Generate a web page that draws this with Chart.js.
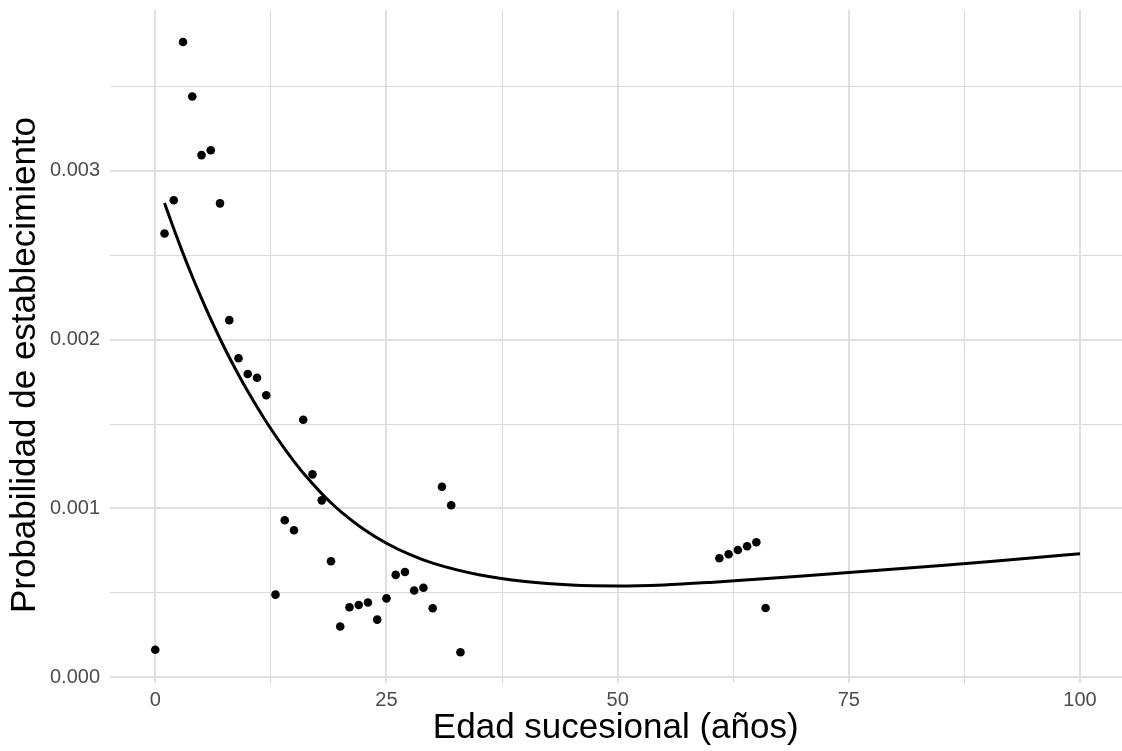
<!DOCTYPE html>
<html><head><meta charset="utf-8">
<script src="https://cdn.jsdelivr.net/npm/chart.js@4.4.1/dist/chart.umd.min.js"></script>
<style>html,body{margin:0;padding:0;background:#fff;} canvas{display:block;}</style>
</head><body>
<canvas id="c" width="1122" height="751"></canvas>
<script>
// ---- data ----
const pointAges  = [0, 1, 2, 3, 4, 5, 6, 7, 8, 9, 10, 11, 12, 13, 14, 15, 16, 17, 18, 19, 20, 21, 22, 23, 24, 25, 26, 27, 28, 29, 30, 31, 32, 33, 61, 62, 63, 64, 65, 66];
const pointProbs = [0.000164, 0.002628, 0.002825, 0.003762, 0.003439, 0.003092, 0.003121, 0.002806, 0.002115, 0.001889,
                    0.001796, 0.001774, 0.001670, 0.000490, 0.000930, 0.000871, 0.001525, 0.001202, 0.001048, 0.000688,
                    0.000301, 0.000415, 0.000429, 0.000443, 0.000342, 0.000468, 0.000607, 0.000624, 0.000514, 0.000531,
                    0.000409, 0.001129, 0.001019, 0.000149, 0.000705, 0.000729, 0.000754, 0.000776, 0.000800, 0.000411];
const curveAges  = [1, 2, 3, 4, 5, 6, 7, 8, 9, 10, 12, 14, 15, 16, 18, 19, 20, 22.5, 25, 27.5, 30, 35, 40, 45, 50, 55, 60, 65, 70, 75, 80, 85, 90, 95, 100];
const curveProbs = [0.0028088, 0.0026553, 0.0025102, 0.0023730, 0.0022434, 0.0021208, 0.0020049, 0.0018953, 0.0017918, 0.0016938,
                    0.0015137, 0.0013528, 0.0012789, 0.0012099, 0.0010881, 0.0010341, 0.0009847, 0.0008788, 0.0007944, 0.0007280,
                    0.0006762, 0.0006075, 0.0005675, 0.0005467, 0.0005412, 0.0005475, 0.0005624, 0.0005811, 0.0006006, 0.0006207,
                    0.0006416, 0.0006631, 0.0006853, 0.0007083, 0.0007321];
const xTickValues  = [0, 25, 50, 75, 100];
const xTickLabels  = ['0', '25', '50', '75', '100'];
const xMinorValues = [12.5, 37.5, 62.5, 87.5];
const yTickValues  = [0, 0.001, 0.002, 0.003];
const yTickLabels  = ['0.000', '0.001', '0.002', '0.003'];
const yMinorValues = [0.0005, 0.0015, 0.0025, 0.0035];
const xTitle = 'Edad sucesional (años)';
const yTitle = 'Probabilidad de establecimiento';

// ---- build ----
const FONT = '"Liberation Sans", Arial, Helvetica, sans-serif';
const pts = pointAges.map((a, i) => ({x: a, y: pointProbs[i]}));
const crv = curveAges.map((a, i) => ({x: a, y: curveProbs[i]}));

function gridOpts(majors) {
  const isMajor = v => majors.indexOf(v) >= 0;
  return {
    drawTicks: false,
    color: c => (c.tick && isMajor(c.tick.value)) ? '#e0e0e0' : '#dadada',
    lineWidth: c => (c.tick && isMajor(c.tick.value)) ? 2 : 1
  };
}
function zeroPad(s) { s.paddingTop = 0; s.paddingBottom = 0; s.paddingLeft = 0; s.paddingRight = 0; }

const yTitlePlugin = {
  id: 'yTitleText',
  afterDraw(chart) {
    const ctx = chart.ctx;
    ctx.save();
    ctx.translate(25.5, 365);
    ctx.rotate(-Math.PI / 2);
    ctx.font = '35px ' + FONT;
    ctx.fillStyle = '#000';
    ctx.textAlign = 'center';
    ctx.textBaseline = 'middle';
    ctx.fillText(yTitle, 0, 0);
    ctx.restore();
  }
};

new Chart(document.getElementById('c'), {
  type: 'scatter',
  data: {
    datasets: [
      {
        type: 'line', data: crv, showLine: true, borderColor: '#000', borderWidth: 3,
        pointRadius: 0, fill: false, cubicInterpolationMode: 'monotone'
      },
      {
        type: 'scatter', data: pts, backgroundColor: '#000', borderWidth: 0,
        pointRadius: 4.3, pointHoverRadius: 4.3
      }
    ]
  },
  options: {
    responsive: false,
    animation: false,
    events: [],
    layout: {autoPadding: false, padding: {top: 10, left: 0, right: 0, bottom: 0}},
    plugins: {legend: {display: false}, tooltip: {enabled: false}},
    scales: {
      x: {
        type: 'linear', min: -4.95, max: 104.54,
        afterFit: s => { s.height = 68.5; zeroPad(s); },
        afterBuildTicks: s => {
          s.ticks = xTickValues.concat(xMinorValues).sort((a, b) => a - b).map(v => ({value: v}));
        },
        border: {display: false},
        grid: gridOpts(xTickValues),
        ticks: {
          autoSkip: false, maxRotation: 0, padding: 6,
          color: '#4d4d4d', font: {family: FONT, size: 20},
          callback: v => { const i = xTickValues.indexOf(v); return i >= 0 ? xTickLabels[i] : ''; }
        },
        title: {
          display: true, text: xTitle, color: '#000',
          font: {family: FONT, size: 35, lineHeight: 1.2},
          padding: {top: 0, bottom: 1.5}
        }
      },
      y: {
        type: 'linear', min: -0.0000302, max: 0.003951,
        afterFit: s => { s.width = 109.5; zeroPad(s); },
        afterBuildTicks: s => {
          s.ticks = yTickValues.concat(yMinorValues).sort((a, b) => a - b).map(v => ({value: v}));
        },
        border: {display: false},
        grid: gridOpts(yTickValues),
        ticks: {
          autoSkip: false, padding: 9.5,
          color: '#4d4d4d', font: {family: FONT, size: 20},
          callback: v => { const i = yTickValues.indexOf(v); return i >= 0 ? yTickLabels[i] : ''; }
        }
      }
    }
  },
  plugins: [yTitlePlugin]
});
</script>
</body></html>
